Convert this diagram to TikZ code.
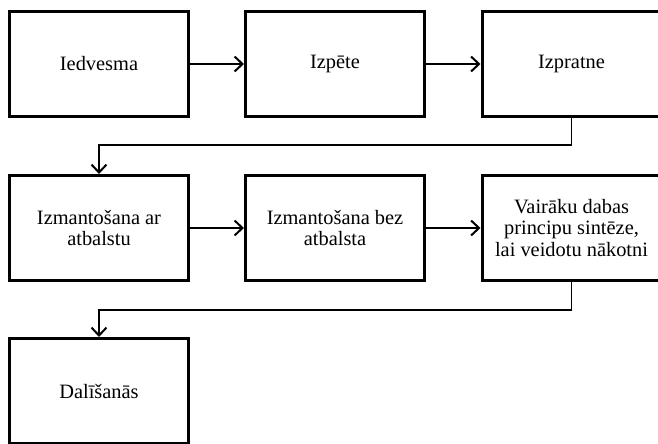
\documentclass[tikz,border=0pt]{standalone}
\usepackage{fontspec}
\setmainfont{Liberation Serif}
\usetikzlibrary{arrows.meta}
\begin{document}
\begin{tikzpicture}[x=1pt,y=-1pt,
 box/.style={draw,line width=3pt,minimum width=179pt,minimum height=105pt,inner sep=0pt,align=center,font=\fontsize{20.4}{21.7}\selectfont},
 arr/.style={line width=2pt,-{Straight Barb[length=8pt,width=15pt,line width=2pt]}},
 elb/.style={line width=1.4pt,-{Straight Barb[length=8pt,width=15pt,line width=2pt]}}]
\useasboundingbox (0,0) rectangle (658,444);
\clip (0,0) rectangle (658,444);
\node[box] (a) at (99,64) {Iedvesma};
\node[box] (b) at (335,64) {Izpēte};
\node[box] (c) at (571.5,64) {Izpratne};
\node[box] (d) at (99,228) {Izmantošana ar\\atbalstu};
\node[box] (e) at (335,228) {Izmantošana bez\\atbalsta};
\node[box] (f) at (571.5,228) {Vairāku dabas\\principu sintēze,\\lai veidotu nākotni};
\node[box] (g) at (99,391) {Dalīšanās};
\coordinate (h1) at (0,145);
\coordinate (h2) at (0,310);
\draw[arr] (a) -- (b);
\draw[arr] (b) -- (c);
\draw[arr] (d) -- (e);
\draw[arr] (e) -- (f);
\draw[elb] (c.south) -- (c.south |- h1) -| (d.north);
\draw[elb] (f.south) -- (f.south |- h2) -| (g.north);
\end{tikzpicture}
\end{document}
